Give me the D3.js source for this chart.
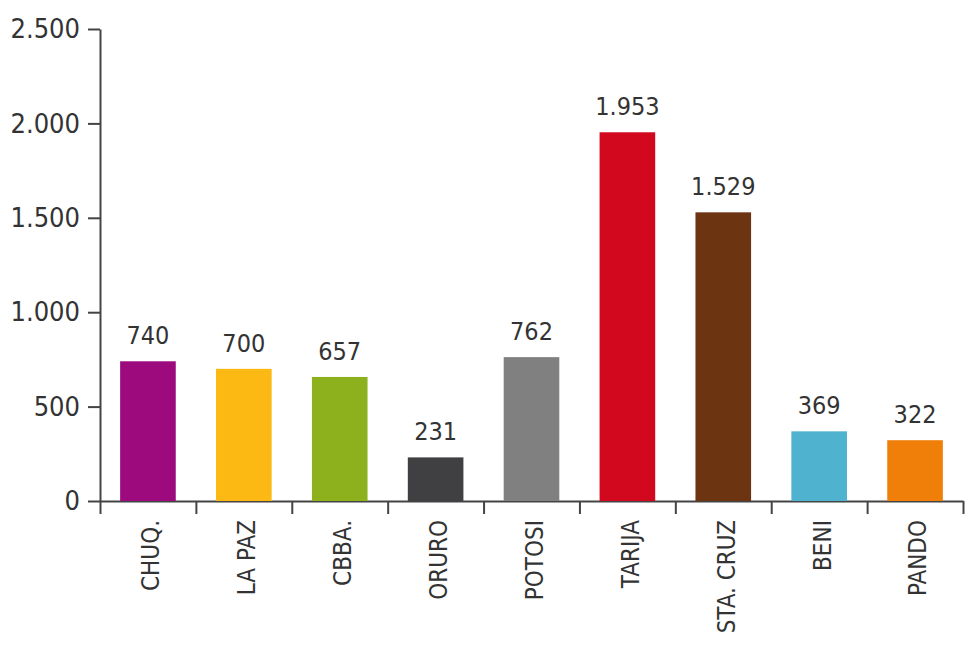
<!DOCTYPE html>
<html>
<head>
<meta charset="utf-8">
<script src="https://cdn.jsdelivr.net/npm/d3@7"></script>
<style>
  body { margin: 0; background: #fff; }
  svg { display: block; }
  text { font-family: "DejaVu Sans Condensed", "DejaVu Sans", sans-serif; fill: #333; }
  .axis path, .axis line { stroke: #444; stroke-width: 2; }
</style>
</head>
<body>
<svg id="chart" width="980" height="663"></svg>
<script>
var categories = ['CHUQ.', 'LA PAZ', 'CBBA.', 'ORURO', 'POTOSI', 'TARIJA', 'STA. CRUZ', 'BENI', 'PANDO']
var values = [740, 700, 657, 231, 762, 1953, 1529, 369, 322]
var colors = ['#9c0a7e', '#fcb813', '#8db11c', '#404042', '#808080', '#d2091e', '#6d3412', '#4fb3d0', '#f07f0a']
var yTicks = [0, 500, 1000, 1500, 2000, 2500]

var svg = d3.select('#chart')
var margin = {top: 29, left: 100}
var width = 863, height = 472

var g = svg.append('g').attr('transform', 'translate(' + margin.left + ',' + margin.top + ')')

var fmt = d3.formatLocale({decimal: ',', thousands: '.', grouping: [3], currency: ['', '']}).format(',')

var x = d3.scaleBand()
    .domain(categories)
    .range([0, width])
    .paddingInner(0.42)
    .paddingOuter(0.21)

var y = d3.scaleLinear()
    .domain([0, 2500])
    .range([height, 0])

// boundary ticks between categories
var xEdge = d3.scaleLinear().domain([0, categories.length]).range([0, width])

g.append('g')
    .attr('class', 'axis')
    .attr('transform', 'translate(0,' + height + ')')
    .call(d3.axisBottom(xEdge).tickValues(d3.range(categories.length + 1)).tickSize(13).tickSizeOuter(0).tickFormat(''))

// category labels
g.append('g')
    .attr('transform', 'translate(0,' + height + ')')
    .call(d3.axisBottom(x).tickSize(0))
    .call(a => a.select('.domain').remove())
    .selectAll('text')
    .attr('transform', 'rotate(-90)')
    .attr('x', -19)
    .attr('y', 3)
    .attr('dy', '0.35em')
    .style('text-anchor', 'end')
    .style('font-size', '24px')
    .attr('fill', '#333')

// Y axis
g.append('g')
    .attr('class', 'axis')
    .call(d3.axisLeft(y).tickValues(yTicks).tickSize(12).tickSizeOuter(0).tickPadding(8).tickFormat(fmt))
    .selectAll('text')
    .style('font-size', '27px')
    .attr('fill', '#333')

// bars
g.selectAll('.bar')
    .data(values)
    .enter().append('rect')
    .attr('class', 'bar')
    .attr('x', (d, i) => x(categories[i]))
    .attr('width', x.bandwidth())
    .attr('y', d => y(d))
    .attr('height', d => height - y(d))
    .attr('fill', (d, i) => colors[i])

// value labels
g.selectAll('.value')
    .data(values)
    .enter().append('text')
    .attr('class', 'value')
    .attr('x', (d, i) => x(categories[i]) + x.bandwidth() / 2)
    .attr('y', d => y(d) - 17)
    .style('text-anchor', 'middle')
    .style('font-size', '25px')
    .text(d => fmt(d))
</script>
</body>
</html>
